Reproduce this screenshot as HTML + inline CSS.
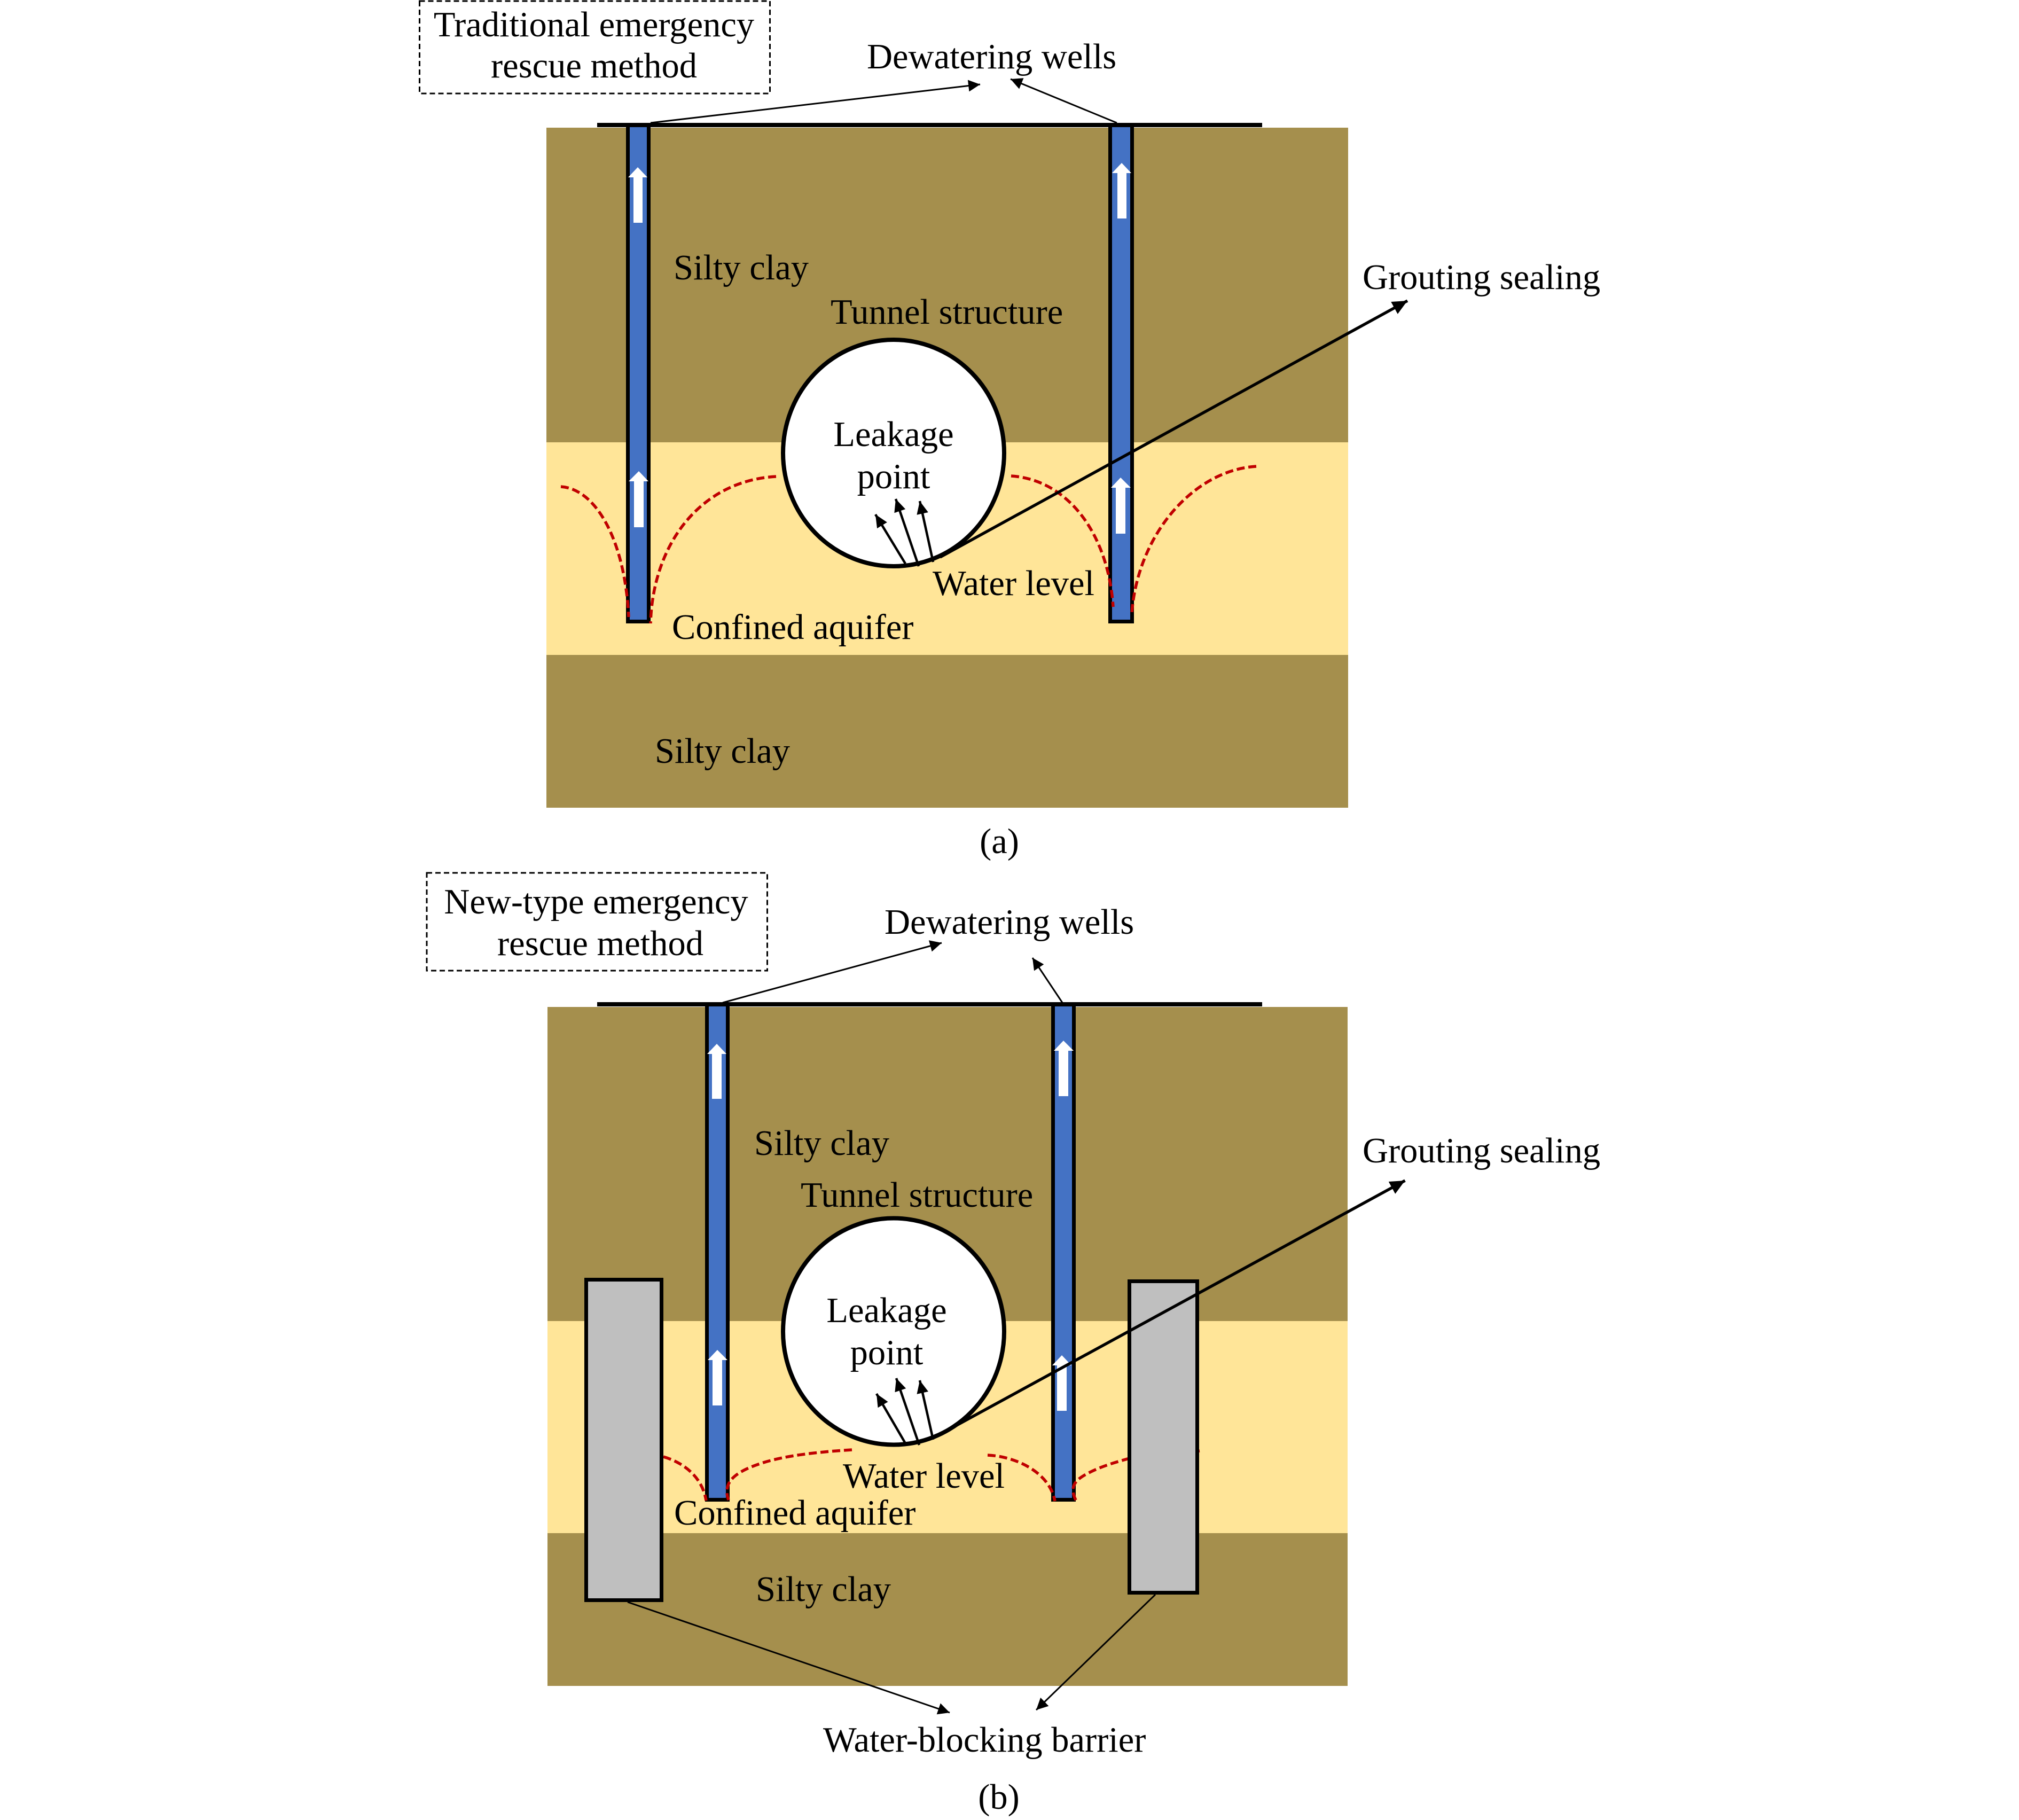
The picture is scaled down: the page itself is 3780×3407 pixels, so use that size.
<!DOCTYPE html>
<html>
<head>
<meta charset="utf-8">
<style>
html,body{margin:0;padding:0;background:#fff;}
svg{display:block;}
text{font-family:"Liberation Serif",serif;font-size:66.5px;fill:#000;}
</style>
</head>
<body>
<svg xmlns="http://www.w3.org/2000/svg" width="3780" height="3407" viewBox="0 0 3780 3407">
<defs>
<marker id="t" markerUnits="userSpaceOnUse" markerWidth="24" markerHeight="22" refX="22" refY="11" orient="auto"><path d="M0 0L22 11L0 22Z" fill="#000"/></marker>
<marker id="m" markerUnits="userSpaceOnUse" markerWidth="26" markerHeight="24" refX="24" refY="11" orient="auto"><path d="M0 0L24 11L0 22Z" fill="#000"/></marker>
<marker id="k" markerUnits="userSpaceOnUse" markerWidth="30" markerHeight="28" refX="28" refY="13" orient="auto"><path d="M0 0L28 13L0 26Z" fill="#000"/></marker>
</defs>
<rect width="3780" height="3407" fill="#fff"/>

<!-- Panel A -->
<rect x="1023" y="239" width="1501" height="589" fill="#A58F4D"/>
<rect x="1023" y="828" width="1501" height="398" fill="#FFE598"/>
<rect x="1023" y="1226" width="1501" height="286" fill="#A58F4D"/>
<rect x="785.5" y="2" width="656" height="173" fill="none" stroke="#000" stroke-width="3" stroke-dasharray="10 6"/>
<ellipse cx="1673" cy="848" rx="207" ry="212" fill="#fff" stroke="#000" stroke-width="8"/>
<rect x="1175.5" y="234" width="39" height="929.5" fill="#4472C4" stroke="#000" stroke-width="7"/>
<rect x="2078.5" y="234" width="41" height="929.5" fill="#4472C4" stroke="#000" stroke-width="7"/>
<line x1="1118" y1="234" x2="2363" y2="234" stroke="#000" stroke-width="8"/>
<g fill="#fff">
<path d="M1194 313L1212 332H1203V417H1186V332H1176Z"/>
<path d="M2100 305L2118 324H2109V409H2092V324H2082Z"/>
<path d="M1196 882L1214 901H1205V987H1187V901H1177Z"/>
<path d="M2098 894L2117 913H2107V999H2089V913H2080Z"/>
</g>
<g fill="none" stroke="#C00000" stroke-width="5.5" stroke-dasharray="15 7">
<path d="M1050 911C1115 915 1170 1010 1177 1155"/>
<path d="M1453 892C1310 900 1222 1020 1218 1167"/>
<path d="M1893 891C2000 898 2075 1000 2084 1136"/>
<path d="M2352 873C2235 880 2130 1000 2119 1148"/>
</g>
<line x1="1760" y1="1043" x2="2635" y2="563" stroke="#000" stroke-width="5.5" marker-end="url(#k)"/>
<g stroke="#000" stroke-width="3">
<line x1="1218" y1="230" x2="1835" y2="158" marker-end="url(#t)"/>
<line x1="2091" y1="230" x2="1892" y2="148" marker-end="url(#t)"/>
</g>
<g stroke="#000" stroke-width="4.5">
<line x1="1695" y1="1055" x2="1639" y2="963" marker-end="url(#m)"/>
<line x1="1720" y1="1060" x2="1677" y2="934" marker-end="url(#m)"/>
<line x1="1747" y1="1052" x2="1722" y2="938" marker-end="url(#m)"/>
</g>
<text x="1112" y="68" text-anchor="middle">Traditional emergency</text>
<text x="1112" y="145" text-anchor="middle">rescue method</text>
<text x="1623" y="128">Dewatering wells</text>
<text x="1261" y="523">Silty clay</text>
<text x="1555" y="606">Tunnel structure</text>
<text x="1673" y="835" text-anchor="middle">Leakage</text>
<text x="1673" y="914" text-anchor="middle">point</text>
<text x="1746" y="1114">Water level</text>
<text x="1258" y="1196">Confined aquifer</text>
<text x="1226" y="1428">Silty clay</text>
<text x="2551" y="541">Grouting sealing</text>
<text x="1871" y="1597" text-anchor="middle">(a)</text>

<!-- Panel B -->
<rect x="1025" y="1885" width="1498" height="588" fill="#A58F4D"/>
<rect x="1025" y="2473" width="1498" height="397" fill="#FFE598"/>
<rect x="1025" y="2870" width="1498" height="286" fill="#A58F4D"/>
<rect x="799" y="1634" width="637.5" height="183" fill="none" stroke="#000" stroke-width="3" stroke-dasharray="10 6"/>
<ellipse cx="1673" cy="2492.5" rx="207" ry="212" fill="#fff" stroke="#000" stroke-width="8"/>
<rect x="1323.5" y="1880" width="39" height="927.5" fill="#4472C4" stroke="#000" stroke-width="7"/>
<rect x="1971.5" y="1880" width="39" height="927.5" fill="#4472C4" stroke="#000" stroke-width="7"/>
<line x1="1118" y1="1880" x2="2363" y2="1880" stroke="#000" stroke-width="8"/>
<g fill="#fff">
<path d="M1342 1954L1360 1973H1351V2057H1333V1973H1324Z"/>
<path d="M1991 1948L2010 1967H2000V2052H1982V1967H1973Z"/>
<path d="M1343 2527L1362 2546H1352V2631H1334V2546H1325Z"/>
<path d="M1988 2537L2006 2556H1997V2641H1979V2556H1970Z"/>
</g>
<g fill="none" stroke="#C00000" stroke-width="5.5" stroke-dasharray="15 7">
<path d="M1242 2727C1280 2738 1315 2765 1322 2809"/>
<path d="M1595 2714C1530 2718 1470 2725 1429 2738C1375 2755 1352 2775 1364 2808"/>
<path d="M1849 2724C1900 2726 1965 2755 1975 2810"/>
<path d="M2246 2716L2111 2731C2090 2737 2060 2745 2033 2760C2005 2775 2005 2790 2015 2810"/>
</g>
<rect x="1097.5" y="2395.5" width="141" height="600" fill="#BFBFBF" stroke="#000" stroke-width="7"/>
<rect x="2114.5" y="2398.5" width="127" height="583" fill="#BFBFBF" stroke="#000" stroke-width="7"/>
<line x1="1760" y1="2685" x2="2630.5" y2="2210" stroke="#000" stroke-width="5.5" marker-end="url(#k)"/>
<g stroke="#000" stroke-width="3">
<line x1="1353" y1="1877" x2="1763" y2="1765" marker-end="url(#t)"/>
<line x1="1989" y1="1877" x2="1933" y2="1793" marker-end="url(#t)"/>
<line x1="1175" y1="2999" x2="1778" y2="3206" marker-end="url(#t)"/>
<line x1="2163" y1="2985" x2="1940" y2="3201" marker-end="url(#t)"/>
</g>
<g stroke="#000" stroke-width="4.5">
<line x1="1694" y1="2700" x2="1641" y2="2609" marker-end="url(#m)"/>
<line x1="1721" y1="2705" x2="1678" y2="2580" marker-end="url(#m)"/>
<line x1="1747" y1="2695" x2="1722" y2="2584" marker-end="url(#m)"/>
</g>
<text x="1116" y="1710" text-anchor="middle">New-type emergency</text>
<text x="1124" y="1788" text-anchor="middle">rescue method</text>
<text x="1656" y="1748">Dewatering wells</text>
<text x="1412" y="2162">Silty clay</text>
<text x="1499" y="2259">Tunnel structure</text>
<text x="1660" y="2475" text-anchor="middle">Leakage</text>
<text x="1660" y="2554" text-anchor="middle">point</text>
<text x="1578" y="2785">Water level</text>
<text x="1262" y="2854">Confined aquifer</text>
<text x="1415" y="2997">Silty clay</text>
<text x="2551" y="2176">Grouting sealing</text>
<text x="1541" y="3279">Water-blocking barrier</text>
<text x="1870" y="3386" text-anchor="middle">(b)</text>
</svg>
</body>
</html>
